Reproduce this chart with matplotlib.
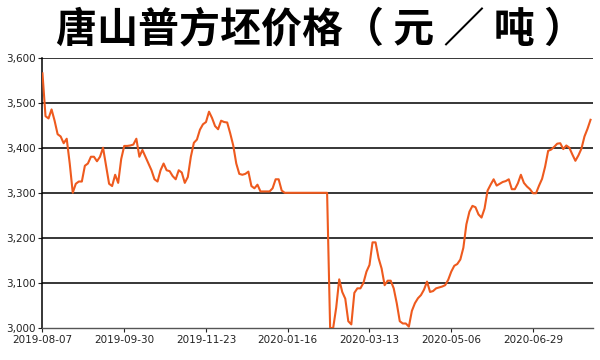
import matplotlib
matplotlib.use("Agg")
import matplotlib.pyplot as plt
import numpy as np

title = "唐山普方坯价格（ 元 ／ 吨 ）"
tick_labels = ["2019-08-07", "2019-09-30", "2019-11-23", "2020-01-16",
               "2020-03-13", "2020-05-06", "2020-06-29"]
y_ticks = [3000, 3100, 3200, 3300, 3400, 3500, 3600]
y_tick_labels = ["3,000", "3,100", "3,200", "3,300", "3,400", "3,500", "3,600"]

prices = [
    3565, 3470, 3465, 3485, 3460, 3430, 3425, 3410, 3420, 3365,
    3300, 3320, 3325, 3325, 3360, 3365, 3380, 3380, 3370, 3380,
    3400, 3360, 3320, 3315, 3340, 3322, 3375, 3404, 3404, 3405,
    3407, 3420, 3380, 3395, 3380, 3365, 3350, 3330, 3325, 3350,
    3365, 3350, 3348, 3337, 3330, 3350, 3345, 3322, 3335, 3380,
    3411, 3418, 3440, 3452, 3457, 3480, 3466, 3448, 3441, 3460,
    3457, 3456, 3432, 3405, 3365, 3342, 3340, 3342, 3347, 3315,
    3310, 3318, 3303, 3303, 3303, 3303, 3310, 3330, 3330, 3305,
    3300, 3300, 3300, 3300, 3300, 3300, 3300, 3300, 3300, 3300,
    3300, 3300, 3300, 3300, 3300, 3000, 3000, 3045, 3108, 3080,
    3065, 3015, 3008, 3078, 3088, 3088, 3100, 3125, 3140, 3190,
    3190, 3155, 3132, 3095, 3105, 3105, 3088, 3055, 3015, 3010,
    3010, 3003, 3038, 3055, 3066, 3073, 3085, 3103, 3080, 3082,
    3088, 3090, 3092, 3095, 3107, 3125, 3138, 3142, 3152, 3178,
    3230, 3258, 3271, 3268, 3252, 3245, 3265, 3305, 3318, 3330,
    3316, 3320, 3324, 3326, 3330, 3308, 3308, 3321, 3340, 3322,
    3314, 3308, 3299, 3299, 3316, 3331, 3358, 3393, 3396, 3402,
    3409, 3410, 3397, 3405, 3400, 3385, 3371, 3383, 3398, 3425,
    3442, 3462,
]
sample_step = 2
tick_step = 54

fig = plt.figure(figsize=(6, 3.6), dpi=100)
ax = fig.add_axes([0.0708, 0.0889, 0.9172, 0.7511])

x = np.arange(len(prices)) * sample_step
ax.plot(x, prices, color="#EE5A1E", lw=1.5, solid_joinstyle="round", zorder=3)

ax.set_xlim(0, 363.5)
ax.set_ylim(3000, 3600)
ax.set_yticks(y_ticks)
ax.set_yticklabels(y_tick_labels)
ax.set_xticks(np.arange(len(tick_labels)) * tick_step)
ax.set_xticklabels(tick_labels)

for v in y_ticks[1:]:
    ax.axhline(v, color="black", lw=1.1, zorder=1)

for s in ["top", "right"]:
    ax.spines[s].set_visible(False)
ax.spines["left"].set_color("black")
ax.spines["left"].set_linewidth(1.1)
ax.spines["bottom"].set_color("#555555")
ax.spines["bottom"].set_linewidth(1.0)

ax.tick_params(axis="both", labelsize=7.5, length=3, width=0.8,
               colors="#222222", pad=2)
for lab in ax.get_xticklabels() + ax.get_yticklabels():
    lab.set_family("DejaVu Sans")

fig.text(0.535, 0.918, title, ha="center", va="center", fontsize=29.5,
         fontweight="bold", family=["Noto Sans CJK SC", "DejaVu Sans"],
         color="black")

fig.savefig("out.png", dpi=100)
